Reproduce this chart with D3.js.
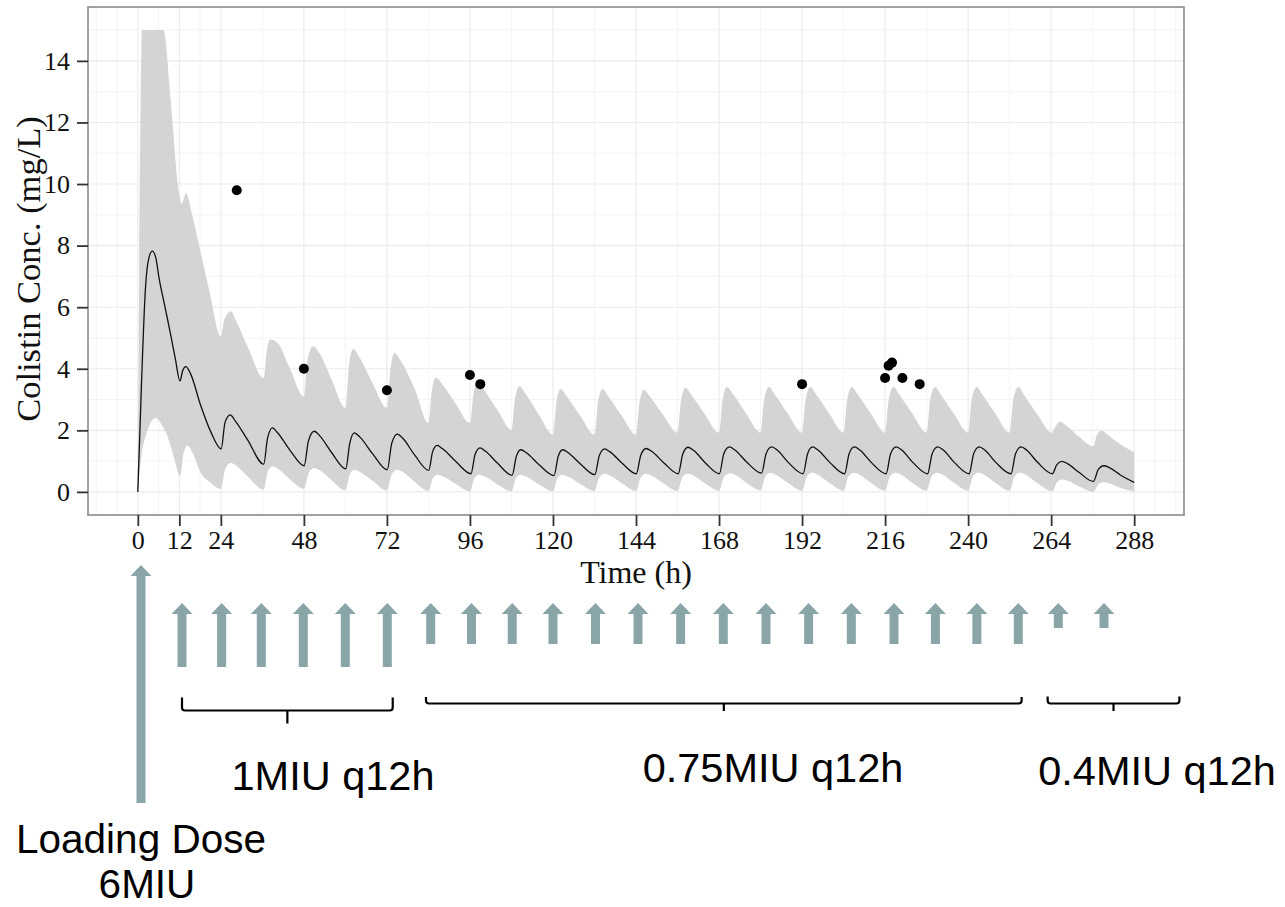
<!DOCTYPE html>
<html>
<head>
<meta charset="utf-8">
<script src="https://cdn.jsdelivr.net/npm/d3@7"></script>
<style>
  html, body { margin: 0; padding: 0; background: #fff; }
  svg { display: block; }
</style>
</head>
<body>
<svg id="chart" width="1285" height="907"></svg>
<script>
// ---------------- data ----------------
// axis breaks
const xTicks = [0, 12, 24, 48, 72, 96, 120, 144, 168, 192, 216, 240, 264, 288];
const xMinorBreaks = [-12, -6, 6, 18, 36, 60, 84, 108, 132, 156, 180, 204, 228, 252, 276, 294, 300];
const yTicks = [0, 2, 4, 6, 8, 10, 12, 14];
const yMinorBreaks = [1, 3, 5, 7, 9, 11, 13, 15];

// simulated median colistin concentration [time (h), mg/L]
const medianConc = [
  [0,0],[1,3.3],[2.2,6.6],[3.2,7.6],[4.2,7.82],[5.2,7.6],[6.2,6.9],[7.4,6.25],[8.6,5.6],[9.5,5.1],[10.8,4.35],[12.2,3.6],
  [13,3.95],[13.9,4.07],[15.2,3.85],[18.2,2.8],[21.1,1.95],[24.1,1.4],
  [25.2,2.25],[26.7,2.5],[28.2,2.3],[31.7,1.7],[36.4,0.9],
  [37.5,1.75],[38.9,2.08],[40.4,1.92],[44,1.35],[48.1,0.85],
  [49.3,1.65],[51,1.97],[52.6,1.82],[56,1.28],[60.1,0.75],
  [61.3,1.6],[62.6,1.92],[64.2,1.78],[68,1.22],[72.1,0.72],
  [73.4,1.58],[75,1.88],[76.6,1.74],[80,1.2],[84.1,0.7],
  [85.2,1.3],[86.5,1.51],[88.1,1.4],[92,0.98],[96.3,0.59],
  [97.5,1.22],[98.9,1.43],[100.5,1.32],[104,0.93],[108.2,0.54],
  [109.4,1.15],[110.7,1.37],[112.3,1.27],[116,0.88],[120.3,0.53],
  [121.5,1.15],[122.8,1.37],[124.4,1.27],[128,0.9],[132.1,0.56],
  [133.4,1.18],[134.9,1.4],[136.5,1.3],[140,0.93],[144.1,0.59],
  [145.4,1.2],[146.9,1.41],[148.5,1.32],[152,0.95],[156.2,0.59],
  [157.5,1.22],[159,1.45],[160.6,1.35],[164,0.95],[168.1,0.59],
  [169.4,1.25],[171,1.46],[172.6,1.36],[176,0.97],[180.3,0.61],
  [181.6,1.24],[183.2,1.46],[184.8,1.36],[188,0.96],[192.3,0.59],
  [193.6,1.24],[195,1.46],[196.6,1.36],[200,0.96],[204.3,0.59],
  [205.6,1.24],[207.1,1.46],[208.7,1.36],[212,0.96],[216.3,0.59],
  [217.6,1.24],[219.2,1.46],[220.8,1.36],[224,0.96],[228.3,0.59],
  [229.6,1.24],[231.2,1.46],[232.8,1.36],[236,0.96],[240.3,0.59],
  [241.6,1.24],[243.2,1.46],[244.8,1.36],[248,0.96],[252.4,0.59],
  [253.7,1.24],[255.3,1.46],[256.9,1.36],[260,0.97],[264.4,0.59],
  [265.6,0.88],[267.1,0.99],[268.7,0.92],[272,0.64],[276.2,0.34],
  [277.6,0.72],[279.2,0.85],[280.8,0.79],[284,0.55],[288,0.31]
];

// upper bound of the prediction interval [time (h), mg/L]
const piUpper = [
  [0,0],[0.8,12.5],[1.2,15],[7.4,15],[9.5,12.7],[11.9,9.7],[12.7,9.36],[13.9,9.7],[15.8,8.95],[18.2,7.76],[20.6,6.57],[24,5.05],
  [25,5.6],[26.9,5.87],[28.4,5.55],[31.7,4.73],[36.4,3.7],
  [37.3,4.6],[38.2,4.95],[40.4,4.84],[44,4.0],[48,3.1],
  [49,4.25],[50.7,4.73],[52.5,4.5],[56,3.65],[60,2.73],
  [61,4.05],[62.2,4.64],[64,4.38],[68,3.5],[72,2.73],
  [73,3.95],[74.2,4.51],[76,4.25],[80,3.35],[84,2.24],
  [85,3.3],[86.2,3.72],[88,3.5],[92,2.85],[96,2.24],
  [97,3.15],[98.2,3.54],[100,3.32],[104,2.65],[108,2.02],
  [109,3.0],[110.3,3.43],[112,3.2],[116,2.5],[120,1.86],
  [121,2.9],[122.2,3.34],[124,3.1],[128,2.45],[132,1.86],
  [133,2.9],[134.3,3.34],[136,3.1],[140,2.45],[144,1.86],
  [145,2.9],[146.3,3.32],[148,3.1],[152,2.47],[156,1.92],
  [157,2.95],[158.3,3.38],[160,3.15],[164,2.5],[168,1.92],
  [169,2.98],[170.3,3.41],[172,3.18],[176,2.52],[180,1.92],
  [181,2.98],[182.4,3.41],[184,3.18],[188,2.52],[192,1.92],
  [193,2.98],[194.4,3.41],[196,3.18],[200,2.52],[204,1.92],
  [205,2.98],[206.4,3.41],[208,3.18],[212,2.52],[216,1.92],
  [217,2.98],[218.5,3.41],[220,3.18],[224,2.52],[228,1.92],
  [229,2.98],[230.5,3.41],[232,3.18],[236,2.52],[240,1.92],
  [241,2.98],[242.5,3.41],[244,3.18],[248,2.52],[252,1.92],
  [253,2.98],[254.6,3.41],[256,3.18],[260,2.52],[264.2,1.92],
  [265.2,2.12],[266.6,2.29],[268.4,2.15],[272,1.8],[276.2,1.48],
  [277.2,1.85],[278.6,1.99],[280.4,1.85],[284,1.55],[288,1.29]
];

// lower bound of the prediction interval [time (h), mg/L]
const piLower = [
  [0,0],[0.9,1.05],[2.5,1.9],[5.2,2.4],[6.8,2.2],[8.6,1.8],[10.5,1.1],[12.2,0.51],
  [13.2,1.25],[14.4,1.51],[15.8,1.28],[18.2,0.62],[21,0.3],[24,0.1],
  [25.3,0.75],[26.9,0.94],[28.5,0.85],[31.7,0.51],[36.4,0.07],
  [37.5,0.65],[38.9,0.83],[40.5,0.75],[44,0.4],[48,0.1],
  [49.4,0.62],[51,0.78],[52.6,0.7],[56,0.38],[60,0.05],
  [61.3,0.58],[62.6,0.72],[64.2,0.65],[68,0.35],[72,0.05],
  [73.4,0.58],[75,0.72],[76.6,0.65],[80,0.33],[84,0.03],
  [85.3,0.45],[86.7,0.56],[88.3,0.5],[92,0.25],[96,0.02],
  [97.3,0.45],[98.8,0.56],[100.4,0.5],[104,0.24],[108,0.02],
  [109.3,0.45],[110.6,0.56],[112.2,0.5],[116,0.24],[120,0.02],
  [121.3,0.45],[122.7,0.56],[124.3,0.5],[128,0.25],[132,0.03],
  [133.4,0.48],[134.9,0.59],[136.5,0.53],[140,0.27],[144,0.03],
  [145.4,0.48],[146.9,0.59],[148.5,0.53],[152,0.27],[156,0.03],
  [157.4,0.48],[159,0.59],[160.6,0.53],[164,0.27],[168,0.04],
  [169.5,0.5],[171.2,0.61],[172.8,0.55],[176,0.29],[180,0.05],
  [181.4,0.5],[182.8,0.62],[184.4,0.56],[188,0.29],[192,0.04],
  [193.4,0.5],[194.9,0.62],[196.5,0.56],[200,0.29],[204,0.04],
  [205.4,0.5],[207,0.62],[208.6,0.56],[212,0.29],[216,0.04],
  [217.4,0.5],[219,0.62],[220.6,0.56],[224,0.29],[228,0.04],
  [229.4,0.5],[231,0.62],[232.6,0.56],[236,0.29],[240,0.04],
  [241.4,0.5],[243,0.62],[244.6,0.56],[248,0.29],[252,0.04],
  [253.4,0.5],[255,0.62],[256.6,0.56],[260,0.29],[264.4,0.02],
  [265.6,0.3],[267.1,0.4],[268.7,0.36],[272,0.18],[276.2,0.0],
  [277.6,0.24],[279.1,0.31],[280.7,0.28],[284,0.13],[288,0.02]
];

// measured concentrations
const observedTime = [28.6, 48, 72, 96, 99, 192, 216, 217, 218, 221, 226];
const observedConc = [9.8, 4.0, 3.3, 3.8, 3.5, 3.5, 3.7, 4.1, 4.2, 3.7, 3.5];

// dosing schedule (h) and dose (MIU)
const doseTimes = [0, 12, 24, 36, 48, 60, 72, 84, 96, 108, 120, 132, 144, 156, 168,
                   180, 192, 204, 216, 228, 240, 252, 264, 276];
const doseAmounts = [6, 1, 1, 1, 1, 1, 1, 0.75, 0.75, 0.75, 0.75, 0.75, 0.75, 0.75, 0.75,
                     0.75, 0.75, 0.75, 0.75, 0.75, 0.75, 0.75, 0.4, 0.4];

// maintenance regimens and the time span each bracket covers (h)
const regimenLabels = ["1MIU q12h", "0.75MIU q12h", "0.4MIU q12h"];
const regimenSpans = [[12, 73.5], [82.7, 253], [260.8, 295.8]];
const loadingLabel = ["Loading Dose", "6MIU"];

// ---------------- layout ----------------
const svg = d3.select("#chart");
const panel = { left: 88, top: 7, right: 1184, bottom: 515 };
const serif = "'Liberation Serif', 'Times New Roman', serif";
const sans = "'Liberation Sans', Arial, Helvetica, sans-serif";
const arrowColor = "#8aa5a8";

const x = d3.scaleLinear().domain([-14.4, 302.4]).range([panel.left, panel.right]);
const y = d3.scaleLinear().domain([-0.75, 15.75]).range([panel.bottom, panel.top]);

// ---------------- panel, grid ----------------
svg.append("rect")
  .attr("x", panel.left).attr("y", panel.top)
  .attr("width", panel.right - panel.left).attr("height", panel.bottom - panel.top)
  .attr("fill", "#fff");

const grid = svg.append("g");
grid.selectAll("line.vmin").data(xMinorBreaks).join("line")
  .attr("x1", d => x(d)).attr("x2", d => x(d))
  .attr("y1", panel.top).attr("y2", panel.bottom)
  .attr("stroke", "#f4f4f4").attr("stroke-width", 1);
grid.selectAll("line.hmin").data(yMinorBreaks).join("line")
  .attr("x1", panel.left).attr("x2", panel.right)
  .attr("y1", d => y(d)).attr("y2", d => y(d))
  .attr("stroke", "#f4f4f4").attr("stroke-width", 1);
grid.selectAll("line.vmaj").data(xTicks).join("line")
  .attr("x1", d => x(d)).attr("x2", d => x(d))
  .attr("y1", panel.top).attr("y2", panel.bottom)
  .attr("stroke", "#ebebeb").attr("stroke-width", 1.1);
grid.selectAll("line.hmaj").data(yTicks).join("line")
  .attr("x1", panel.left).attr("x2", panel.right)
  .attr("y1", d => y(d)).attr("y2", d => y(d))
  .attr("stroke", "#ebebeb").attr("stroke-width", 1.1);

svg.append("clipPath").attr("id", "panelClip")
  .append("rect")
  .attr("x", panel.left).attr("y", panel.top)
  .attr("width", panel.right - panel.left).attr("height", panel.bottom - panel.top);

const plot = svg.append("g").attr("clip-path", "url(#panelClip)");

// ---------------- prediction interval ribbon ----------------
const edge = d3.line()
  .x(d => x(d[0])).y(d => y(d[1]))
  .curve(d3.curveMonotoneX);
const ribbonPath = edge(piUpper) + "L" + edge(piLower.slice().reverse()).slice(1) + "Z";
plot.append("path")
  .attr("d", ribbonPath)
  .attr("fill", "#d4d4d4")
  .attr("stroke", "none");

// ---------------- median line ----------------
plot.append("path")
  .datum(medianConc)
  .attr("d", edge)
  .attr("fill", "none")
  .attr("stroke", "#111")
  .attr("stroke-width", 1.3);

// ---------------- observations ----------------
plot.selectAll("circle.obs").data(observedTime).join("circle")
  .attr("cx", d => x(d))
  .attr("cy", (d, i) => y(observedConc[i]))
  .attr("r", 5)
  .attr("fill", "#000");

// panel border
svg.append("rect")
  .attr("x", panel.left).attr("y", panel.top)
  .attr("width", panel.right - panel.left).attr("height", panel.bottom - panel.top)
  .attr("fill", "none").attr("stroke", "#8a8a8a").attr("stroke-width", 1.6);

// ---------------- axes ----------------
const xAxis = svg.append("g")
  .attr("transform", `translate(0,${panel.bottom})`)
  .call(d3.axisBottom(x).tickValues(xTicks).tickSize(11).tickPadding(4.5).tickFormat(d3.format("d")));
const yAxis = svg.append("g")
  .attr("transform", `translate(${panel.left},0)`)
  .call(d3.axisLeft(y).tickValues(yTicks).tickSize(11).tickPadding(7).tickFormat(d3.format("d")));

[xAxis, yAxis].forEach(g => {
  g.select(".domain").remove();
  g.selectAll(".tick line").attr("stroke", "#333").attr("stroke-width", 1.8);
  g.selectAll(".tick text")
    .attr("fill", "#111")
    .style("font-family", serif)
    .style("font-size", "26px");
});

svg.append("text")
  .attr("x", (panel.left + panel.right) / 2).attr("y", 583)
  .attr("text-anchor", "middle")
  .style("font-family", serif).style("font-size", "32px")
  .attr("fill", "#111")
  .text("Time (h)");

svg.append("text")
  .attr("transform", "translate(40,269) rotate(-90)")
  .attr("text-anchor", "middle")
  .style("font-family", serif).style("font-size", "34.5px")
  .attr("fill", "#111")
  .text("Colistin Conc. (mg/L)");

// ---------------- dosing timeline ----------------
// dose arrows sit on their own, hand-spaced time axis under the plot
const doseX = d3.scaleLinear()
  .domain([0, 12, 36, 72, 84, 120, 144, 168, 216, 252, 264, 276])
  .range([141, 182, 261.3, 387.3, 430.7, 553, 638, 723.3, 894, 1018.3, 1058.3, 1104]);
const arrowStyle = new Map([
  [6,    { tip: 565, headBase: 576, bottom: 803 }],
  [1,    { tip: 603, headBase: 614, bottom: 667 }],
  [0.75, { tip: 603, headBase: 614, bottom: 644 }],
  [0.4,  { tip: 603, headBase: 614, bottom: 628 }]
]);
const headHalf = 10.5, shaftHalf = 4.5;

svg.append("g").selectAll("path.dose").data(doseTimes).join("path")
  .attr("d", (t, i) => {
    const s = arrowStyle.get(doseAmounts[i]);
    const cx = doseX(t);
    return `M${cx},${s.tip} L${cx + headHalf},${s.headBase} L${cx + shaftHalf},${s.headBase}` +
           ` L${cx + shaftHalf},${s.bottom} L${cx - shaftHalf},${s.bottom}` +
           ` L${cx - shaftHalf},${s.headBase} L${cx - headHalf},${s.headBase} Z`;
  })
  .attr("fill", arrowColor);

// brackets grouping each maintenance regimen
const bracketStyle = [
  { top: 697.5, bar: 710.5, tick: 723.5 },
  { top: 697,   bar: 703.5, tick: 711 },
  { top: 696.5, bar: 703.5, tick: 711 }
];
svg.append("g").selectAll("path.bracket").data(regimenSpans).join("path")
  .attr("d", (span, i) => {
    const s = bracketStyle[i];
    const x0 = doseX(span[0]), x1 = doseX(span[1]), xm = (x0 + x1) / 2, r = 3;
    return `M${x0},${s.top} V${s.bar - r} Q${x0},${s.bar} ${x0 + r},${s.bar}` +
           ` H${x1 - r} Q${x1},${s.bar} ${x1},${s.bar - r} V${s.top}` +
           ` M${xm},${s.bar} V${s.tick}`;
  })
  .attr("fill", "none")
  .attr("stroke", "#000")
  .attr("stroke-width", 2.2);

const regimenTextPos = [
  { x: 333, y: 790 },
  { x: 773, y: 782 },
  { x: 1157, y: 785 }
];
svg.append("g").selectAll("text.regimen").data(regimenLabels).join("text")
  .attr("x", (d, i) => regimenTextPos[i].x)
  .attr("y", (d, i) => regimenTextPos[i].y)
  .attr("text-anchor", "middle")
  .style("font-family", sans).style("font-size", "41.5px")
  .attr("fill", "#000")
  .text(d => d);

const loadingTextPos = [{ x: 141, y: 852.5 }, { x: 147, y: 898 }];
svg.append("g").selectAll("text.loading").data(loadingLabel).join("text")
  .attr("x", (d, i) => loadingTextPos[i].x)
  .attr("y", (d, i) => loadingTextPos[i].y)
  .attr("text-anchor", "middle")
  .style("font-family", sans).style("font-size", "40.5px")
  .attr("fill", "#000")
  .text(d => d);
</script>
</body>
</html>
